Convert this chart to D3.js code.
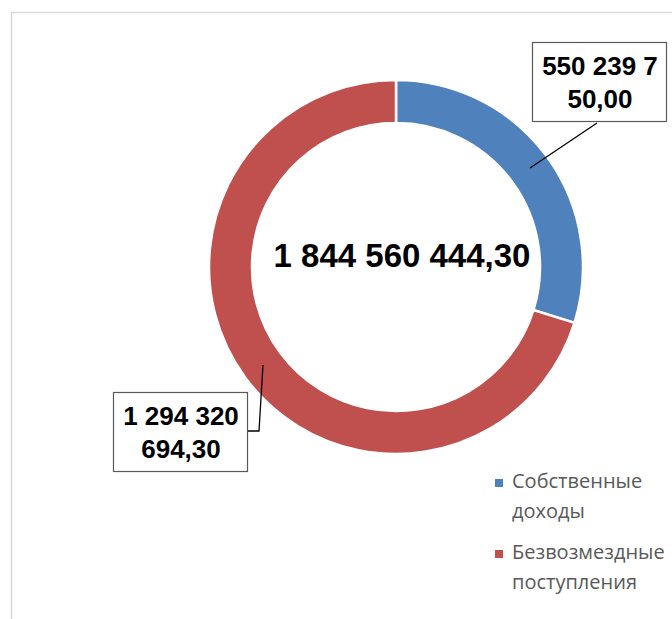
<!DOCTYPE html>
<html><head><meta charset="utf-8">
<script src="https://cdn.jsdelivr.net/npm/d3@7"></script>
<style>body{margin:0;background:#fff}svg{display:block}</style>
</head><body>
<script>
const categories = ["Собственные доходы", "Безвозмездные поступления"];
const legendLines = [["Собственные", "доходы"], ["Безвозмездные", "поступления"]];
const values = [550239750.00, 1294320694.30];
const labelLines = [["550 239 7", "50,00"], ["1 294 320", "694,30"]];
const totalLabel = "1 844 560 444,30";
const colors = ["#4F81BD", "#C0504D"];

const W = 672, H = 619;
const svg = d3.select("body").append("svg").attr("width", W).attr("height", H);

// chart frame
svg.append("path").attr("d", `M11.5,${H} V12.5 H${W}`).attr("fill", "none")
  .attr("stroke", "#d9d9d9").attr("stroke-width", 1.5);

const cx = 396, cy = 267, rOut = 187, rIn = 144;
const g = svg.append("g").attr("transform", `translate(${cx},${cy})`);
const pie = d3.pie().sort(null).value(d => d);
const arcs = pie(values);
const arc = d3.arc().innerRadius(rIn).outerRadius(rOut);
g.selectAll("path.slice").data(arcs).enter().append("path")
  .attr("class", "slice").attr("d", arc)
  .attr("fill", (d, i) => colors[i]).attr("stroke", "#fff").attr("stroke-width", 2.5);

// center total
svg.append("text").attr("x", 402).attr("y", 267).attr("text-anchor", "middle")
  .attr("font-family", "Liberation Sans, Arial, sans-serif").attr("font-weight", "bold")
  .attr("font-size", 33).attr("fill", "#000").text(totalLabel);

// data labels with leader lines
const boxes = [
  {x: 532, y: 42, w: 134, h: 79, lines: [[597, 123], [530, 168]]},
  {x: 113, y: 392, w: 134, h: 79, lines: [[247, 431], [259, 431], [263, 365]]}
];
boxes.forEach((b, i) => {
  svg.append("path").attr("d", d3.line()(b.lines)).attr("fill", "none")
    .attr("stroke", "#000").attr("stroke-width", 1.3);
  svg.append("rect").attr("x", b.x + 0.5).attr("y", b.y + 0.5).attr("width", b.w).attr("height", b.h)
    .attr("fill", "#fff").attr("stroke", "#595959").attr("stroke-width", 1.2);
  labelLines[i].forEach((t, j) => {
    svg.append("text").attr("x", b.x + b.w / 2 + 1).attr("y", b.y + 33 + j * 33)
      .attr("text-anchor", "middle")
      .attr("font-family", "Liberation Sans, Arial, sans-serif").attr("font-weight", "bold")
      .attr("font-size", 26).attr("fill", "#000").text(t);
  });
});

// legend
const legend = [{y: 479}, {y: 550}];
legend.forEach((l, i) => {
  svg.append("rect").attr("x", 495).attr("y", l.y).attr("width", 8).attr("height", 8).attr("fill", colors[i]);
  legendLines[i].forEach((t, j) => {
    svg.append("text").attr("x", 512).attr("y", l.y + 9 + j * 30)
      .attr("font-family", "Open Sans, Noto Sans, sans-serif").attr("font-size", 20)
      .attr("fill", "#595959").text(t);
  });
});
</script>
</body></html>
